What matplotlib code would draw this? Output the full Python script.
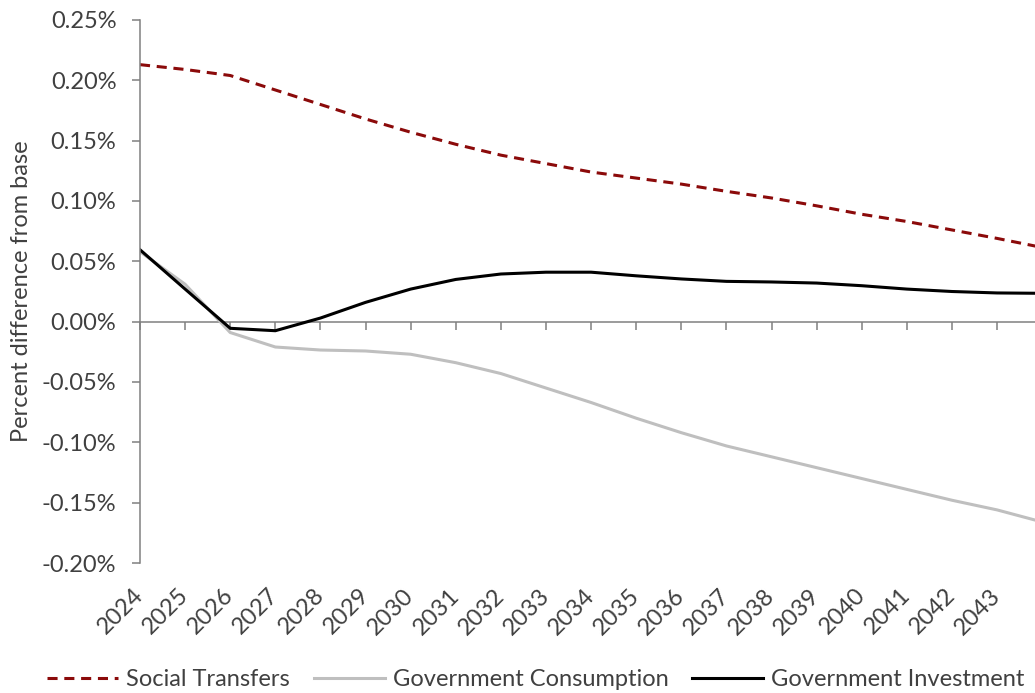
import matplotlib
matplotlib.use("Agg")
import matplotlib.pyplot as plt
from matplotlib.ticker import FuncFormatter, MultipleLocator

plt.rcParams["font.family"] = ["Lato", "DejaVu Sans"]

# Years of the projection (last year runs off the right edge of the plot)
years = list(range(2024, 2045))
year_labels = [str(y) for y in range(2024, 2044)]

# Percent difference from base, in percent
social_transfers = [0.213, 0.209, 0.204, 0.192, 0.180, 0.168, 0.157, 0.147, 0.138, 0.131,
                    0.124, 0.119, 0.114, 0.108, 0.1025, 0.096, 0.089, 0.083, 0.076, 0.069,
                    0.0615]
government_consumption = [0.058, 0.031, -0.009, -0.021, -0.0235, -0.0243, -0.027, -0.034,
                          -0.043, -0.055, -0.067, -0.080, -0.092, -0.103, -0.112, -0.121,
                          -0.130, -0.139, -0.148, -0.156, -0.166]
government_investment = [0.0596, 0.027, -0.0055, -0.0075, 0.003, 0.016, 0.027, 0.035,
                         0.0395, 0.041, 0.041, 0.038, 0.0354, 0.0334, 0.0329, 0.032,
                         0.0298, 0.027, 0.025, 0.0238, 0.0235]

text_color = "#404040"
axis_color = "#808080"
fs = 17

fig = plt.figure(figsize=(10.35, 6.93), dpi=100)
ax = fig.add_axes([140 / 1035, 1 - 563 / 693, 1 - 140 / 1035, (563 - 20) / 693])

ax.plot(years, social_transfers, color="#8B0A0A", lw=2.2, linestyle=(0, (3.3, 2.2)),
        label="Social Transfers", dash_capstyle="butt")
ax.plot(years, government_consumption, color="#BFBFBF", lw=2.2,
        label="Government Consumption")
ax.plot(years, government_investment, color="#000000", lw=2.2,
        label="Government Investment")

ax.set_ylim(-0.20, 0.25)
ax.set_xlim(2024, 2043.84)
ax.yaxis.set_major_locator(MultipleLocator(0.05))
ax.yaxis.set_major_formatter(FuncFormatter(lambda v, p: f"{v:.2f}%"))

# Category axis drawn along the zero line, tick marks only
for side in ("top", "right"):
    ax.spines[side].set_visible(False)
ax.spines["bottom"].set_position(("data", 0))
ax.spines["bottom"].set_color(axis_color)
ax.spines["bottom"].set_linewidth(1.1)
ax.spines["left"].set_color(axis_color)
ax.spines["left"].set_linewidth(1.1)
ax.spines["bottom"].set_zorder(0.5)

ax.set_xticks(range(2024, 2044))
ax.tick_params(axis="x", direction="out", length=6, width=1.1, color=axis_color,
               labelbottom=False)
ax.tick_params(axis="y", direction="out", length=6, width=1.1, color=axis_color,
               labelsize=fs, labelcolor=text_color, pad=11)

# Year labels below the plot area
secax = ax.secondary_xaxis("bottom")
secax.set_xticks(range(2024, 2044), year_labels)
secax.spines["bottom"].set_visible(False)
secax.tick_params(axis="x", length=0, pad=21, labelsize=fs, labelcolor=text_color)
for lbl in secax.get_xticklabels():
    lbl.set_rotation(45)
    lbl.set_ha("right")
    lbl.set_va("center")
    lbl.set_rotation_mode("anchor")

fig.text(22 / 1035, 1 - 291 / 693, "Percent difference from base", rotation=90,
         ha="center", va="center", fontsize=fs, color=text_color)

fig.legend(loc="lower center", bbox_to_anchor=(536 / 1035, -0.026), ncol=3, frameon=False,
           fontsize=fs, labelcolor=text_color, handlelength=3.0, handletextpad=0.35,
           columnspacing=1.0)

fig.savefig("out.png", dpi=100)
